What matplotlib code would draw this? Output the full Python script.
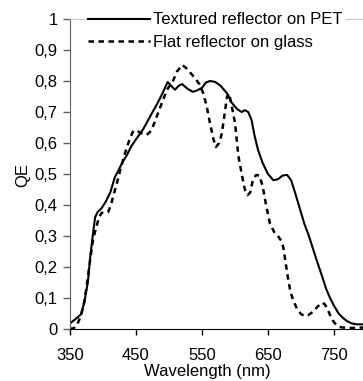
import matplotlib
import matplotlib.pyplot as plt
from matplotlib.ticker import FuncFormatter

matplotlib.use("Agg")

plt.rcParams["font.family"] = ["Liberation Sans", "DejaVu Sans"]

# Textured reflector on PET (solid)
textured_wl = [350, 360, 367, 372, 377, 381, 385, 388, 392, 398, 404, 411, 418, 423,
               430, 436, 443, 451, 461, 471, 483, 490, 498, 503, 509, 515, 520, 528,
               536, 543, 550, 556, 562, 570, 578, 588, 595, 603, 610, 615, 620, 625,
               630, 635, 642, 650, 658, 665, 672, 679, 685, 691, 698, 705, 712, 718,
               724, 732, 738, 744, 750, 757, 764, 770, 777, 785, 800]
textured_qe = [0.018, 0.035, 0.048, 0.09, 0.15, 0.24, 0.31, 0.36, 0.378, 0.39, 0.41, 0.44,
               0.49, 0.51, 0.54, 0.56, 0.59, 0.615, 0.645, 0.684, 0.73, 0.76, 0.797, 0.785,
               0.772, 0.785, 0.79, 0.775, 0.765, 0.77, 0.778, 0.795, 0.80, 0.797, 0.785,
               0.76, 0.73, 0.71, 0.70, 0.706, 0.70, 0.675, 0.62, 0.577, 0.535, 0.50, 0.48,
               0.483, 0.495, 0.497, 0.48, 0.44, 0.39, 0.34, 0.30, 0.26, 0.22, 0.17, 0.13,
               0.10, 0.075, 0.05, 0.035, 0.025, 0.018, 0.015, 0.015]

# Flat reflector on glass (dashed)
flat_wl = [350, 356, 361, 366, 371, 376, 381, 385, 390, 394, 398, 404, 408, 412, 417,
           421, 427, 433, 440, 446, 453, 460, 466, 471, 477, 484, 491, 498, 506, 512,
           520, 527, 533, 539, 546, 552, 557, 562, 567, 571, 576, 580, 584, 588, 591,
           595, 600, 605, 611, 615, 619, 623, 627, 632, 637, 642, 647, 653, 660, 666,
           670, 673, 677, 680, 684, 688, 694, 700, 706, 711, 718, 725, 732, 736, 740,
           744, 748, 753, 760, 770, 800]
flat_qe = [0.0, 0.003, 0.015, 0.04, 0.08, 0.15, 0.23, 0.29, 0.33, 0.36, 0.375, 0.375,
           0.378, 0.40, 0.44, 0.47, 0.52, 0.565, 0.61, 0.64, 0.637, 0.63, 0.626, 0.635,
           0.66, 0.70, 0.74, 0.775, 0.80, 0.83, 0.852, 0.84, 0.825, 0.81, 0.79, 0.76,
           0.72, 0.665, 0.615, 0.587, 0.60, 0.63, 0.69, 0.75, 0.76, 0.72, 0.665, 0.56,
           0.49, 0.45, 0.432, 0.44, 0.48, 0.497, 0.495, 0.46, 0.40, 0.34, 0.31, 0.297,
           0.285, 0.265, 0.21, 0.168, 0.12, 0.094, 0.065, 0.048, 0.042, 0.045, 0.055,
           0.072, 0.085, 0.08, 0.065, 0.045, 0.028, 0.014, 0.006, 0.003, 0.005]

x_ticks = [350, 450, 550, 650, 750]
y_ticks = [0, 0.1, 0.2, 0.3, 0.4, 0.5, 0.6, 0.7, 0.8, 0.9, 1]

fig = plt.figure(figsize=(3.63, 3.81), dpi=100)
ax = fig.add_axes([70 / 363, 52 / 381, 297 / 363, 310 / 381])

ax.plot(textured_wl, textured_qe, color="black", lw=1.5, label="Textured reflector on PET")
ax.plot(flat_wl, flat_qe, color="black", lw=1.8, linestyle=(0, (2.2, 1.8)),
        label="Flat reflector on glass")

ax.set_xlim(350, 800)
ax.set_ylim(0, 1)
ax.set_xticks(x_ticks)
ax.set_yticks(y_ticks)
ax.yaxis.set_major_formatter(FuncFormatter(lambda v, p: f"{v:g}".replace(".", ",")))

ax.spines["right"].set_visible(False)
ax.spines["top"].set_color("#c8c8c8")
ax.spines["left"].set_color("#606060")
ax.spines["bottom"].set_color("black")
ax.tick_params(axis="y", direction="out", length=5, width=1, color="#606060",
               pad=4, labelsize=12)
ax.tick_params(axis="x", direction="out", length=4.5, width=1, color="black",
               pad=9.5, labelsize=12)

ax.set_xlabel("Wavelength (nm)", fontsize=12)
ax.xaxis.set_label_coords(0.461, -0.113)
ax.set_ylabel("QE", fontsize=12)
ax.yaxis.set_label_coords(-0.135, 0.497)

leg = ax.legend(loc="upper left", bbox_to_anchor=(84.7 / 363, 1 - 9 / 381),
                bbox_transform=fig.transFigure, fontsize=12, frameon=True,
                fancybox=False, facecolor="white", edgecolor="none", framealpha=1,
                borderpad=0.2, borderaxespad=0, handlelength=3.7,
                handletextpad=0.18, labelspacing=0.43)

fig.savefig("out.png", dpi=100)
